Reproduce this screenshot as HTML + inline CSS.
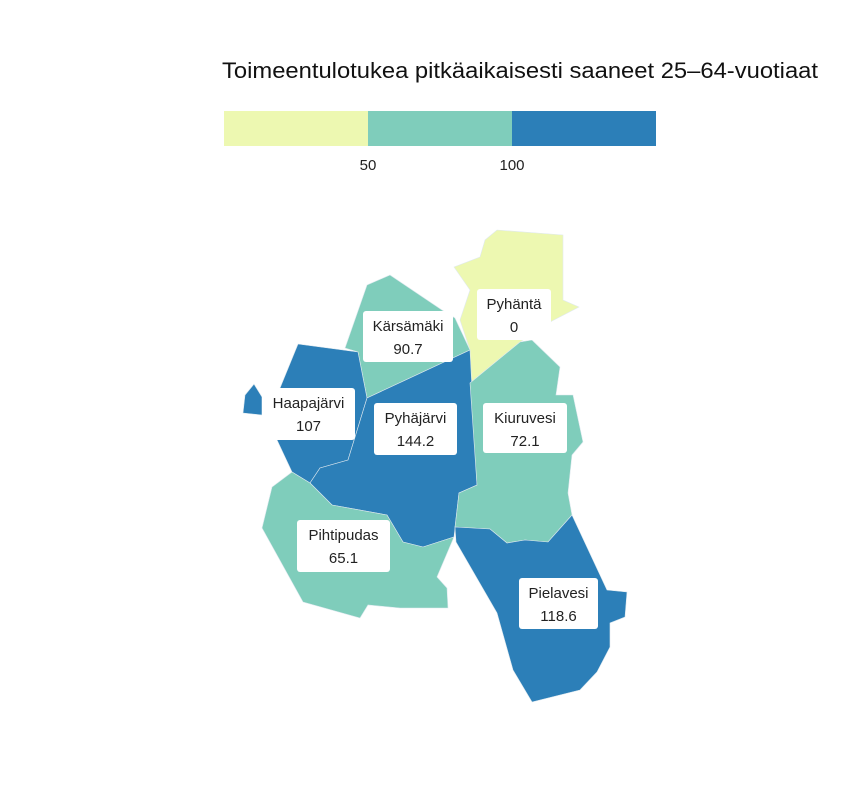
<!DOCTYPE html>
<html><head><meta charset="utf-8"><style>
html,body{margin:0;padding:0;background:#fff;}
svg{display:block;font-family:"Liberation Sans",sans-serif;}
</style></head><body>
<svg id="chart" width="864" height="792" viewBox="0 0 864 792" xmlns="http://www.w3.org/2000/svg">
<rect width="864" height="792" fill="#fff"/>
<text x="222" y="78" font-size="22" fill="#111" textLength="596" lengthAdjust="spacingAndGlyphs">Toimeentulotukea pitkäaikaisesti saaneet 25–64-vuotiaat</text>
<g id="legend"></g>
<g id="regions"></g>
<g id="labels"></g>
</svg>
<script>
const regionNames = ["Pyhäntä","Kärsämäki","Haapajärvi","Pyhäjärvi","Pihtipudas","Kiuruvesi","Pielavesi"];
const regionValues = [0, 90.7, 107, 144.2, 65.1, 72.1, 118.6];
const legendBreaks = [50, 100];
const legendColors = ["#edf8b1","#7fcdbb","#2c7fb8"];

const NS="http://www.w3.org/2000/svg";
const shapes = {
 "Pyhäntä":["485,240 497,230 563,235 563,300 579,307 552,321 520,342 470,383 470,350 460,320 470,290 454,267 480,257"],
 "Kärsämäki":["345,348 367,285 390,275 442,310 455,318 470,350 367,398 358,352"],
 "Haapajärvi":["298,344 358,352 367,398 348,460 320,468 310,483 292,472 277,440 280,388","243,413 245,395 254,384 262,397 262,415"],
 "Pyhäjärvi":["367,398 470,350 477,485 459,493 454,537 423,547 403,542 387,515 332,505 310,483 320,468 348,460"],
 "Pihtipudas":["292,472 310,483 332,505 387,515 403,542 423,547 454,537 437,577 447,588 448,608 400,608 368,605 360,618 303,602 262,528 272,487"],
 "Kiuruvesi":["520,342 532,340 560,367 556,395 573,395 583,442 572,455 568,493 572,515 548,542 525,540 507,543 490,529 455,527 459,493 477,485 470,383"],
 "Pielavesi":["455,527 490,529 507,543 525,540 548,542 572,515 607,590 627,592 625,617 610,623 610,647 597,672 580,690 532,702 513,670 497,613 456,542"]
};
const labelBoxes = {
 "Pyhäntä":[477,289,74,51],"Kärsämäki":[363,311,90,51],"Haapajärvi":[262,388,93,52],
 "Pyhäjärvi":[374,403,83,52],"Kiuruvesi":[483,403,84,50],"Pihtipudas":[297,520,93,52],"Pielavesi":[519,578,79,51]
};
function colorFor(v){let i=0;while(i<legendBreaks.length&&v>=legendBreaks[i])i++;return legendColors[i];}
// legend
const lx0=224,lx1=656,lmax=150;
const lscale=v=>lx0+(v/lmax)*(lx1-lx0);
const leg=document.getElementById('legend');
const edges=[0,...legendBreaks,lmax];
for(let i=0;i<legendColors.length;i++){
 const r=document.createElementNS(NS,'rect');
 r.setAttribute('x',lscale(edges[i]));r.setAttribute('y',111);
 r.setAttribute('width',lscale(edges[i+1])-lscale(edges[i]));r.setAttribute('height',35);
 r.setAttribute('fill',legendColors[i]);
 
 
 leg.appendChild(r);
}
legendBreaks.forEach(b=>{
 const t=document.createElementNS(NS,'text');
 t.setAttribute('x',lscale(b));t.setAttribute('y',170);t.setAttribute('text-anchor','middle');
 t.setAttribute('font-size','15');t.setAttribute('fill','#222');t.textContent=b;
 
 
 leg.appendChild(t);
});
const reg=document.getElementById('regions'),lab=document.getElementById('labels');
regionNames.forEach((n,i)=>{
 const v=regionValues[i];
 shapes[n].forEach(p=>{
  const pg=document.createElementNS(NS,'polygon');
  pg.setAttribute('points',p);pg.setAttribute('fill',colorFor(v));
  pg.setAttribute('stroke','#dfe9ef');pg.setAttribute('stroke-width','0.6');
  
  
  reg.appendChild(pg);
 });
 const b=labelBoxes[n];
 const g=document.createElementNS(NS,'g');
 
 
 const r=document.createElementNS(NS,'rect');
 r.setAttribute('x',b[0]);r.setAttribute('y',b[1]);r.setAttribute('width',b[2]);r.setAttribute('height',b[3]);
 r.setAttribute('rx',3);r.setAttribute('fill','#fff');
 g.appendChild(r);
 const cx=b[0]+b[2]/2;
 const t1=document.createElementNS(NS,'text');
 t1.setAttribute('x',cx);t1.setAttribute('y',b[1]+20);t1.setAttribute('text-anchor','middle');
 t1.setAttribute('font-size','15');t1.setAttribute('fill','#222');t1.textContent=n;
 g.appendChild(t1);
 const t2=document.createElementNS(NS,'text');
 t2.setAttribute('x',cx);t2.setAttribute('y',b[1]+43);t2.setAttribute('text-anchor','middle');
 t2.setAttribute('font-size','15');t2.setAttribute('fill','#222');t2.textContent=v;
 g.appendChild(t2);
 lab.appendChild(g);
});
</script>
</body></html>
